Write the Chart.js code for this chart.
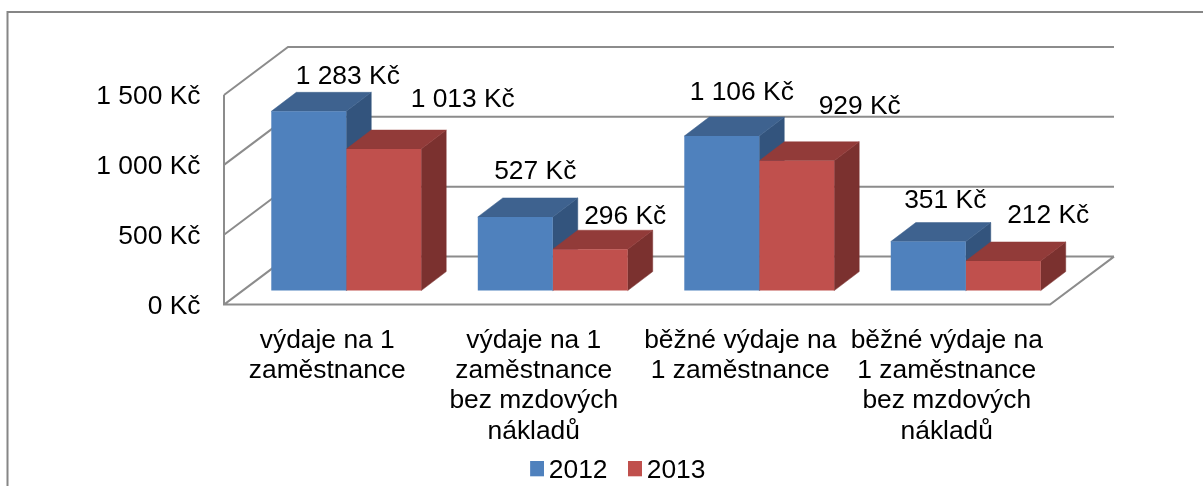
<!DOCTYPE html>
<html>
<head>
<meta charset="utf-8">
<style>html,body{margin:0;padding:0;background:#fff}canvas{display:block}</style>
<script src="https://cdn.jsdelivr.net/npm/chart.js@4"></script>
</head>
<body>
<canvas id="c" width="1203" height="486"></canvas>
<script>
const categories = [
  ["výdaje na 1", "zaměstnance"],
  ["výdaje na 1", "zaměstnance", "bez mzdových", "nákladů"],
  ["běžné výdaje na", "1 zaměstnance"],
  ["běžné výdaje na", "1 zaměstnance", "bez mzdových", "nákladů"]
];
const values2012 = [1283, 527, 1106, 351];
const values2013 = [1013, 296, 929, 212];
const yTicks = [0, 500, 1000, 1500];

const FONT = "'Liberation Sans', Arial, sans-serif";
const FONT_SIZE = 26.4;
const WALL = { dx: 64, dy: -48 };      // depth of the chart box
const BAR_SHIFT = { dx: 19, dy: -14 }; // bars stand inside the box
const BAR_DEPTH = { dx: 25, dy: -19 };
const GRID = "#8c8c8c";
const FRAME = "#868686";
const SHADES = [
  { front: "#4F81BD", top: "#3E628F", side: "#33547D" },
  { front: "#C0504D", top: "#923B39", side: "#7B312F" }
];
// hand-placed data labels: offset of label centre from bar's top-centre
const LABEL_OFFSETS = [
  [[39, -35], [20, -45], [20, -43], [17, -41]],
  [[79, -49], [35, -33], [63, -54], [45, -45]]
];
const LEGEND_SHIFT = { x: 95, y: -18.5 };

const money = v => String(v).replace(/\B(?=(\d{3})+$)/g, " ") + " Kč";

function swatch(color) {
  // legend key: transparent margins place the 14x15 square relative to its text
  const s = document.createElement("canvas");
  s.width = 18; s.height = 18;
  const g = s.getContext("2d");
  g.fillStyle = color;
  g.fillRect(4, 0, 14, 15);
  return s;
}

const box3d = {
  id: "box3d",
  afterLayout(chart) {
    const l = chart.legend;
    l.left += LEGEND_SHIFT.x; l.right += LEGEND_SHIFT.x;
    l.top += LEGEND_SHIFT.y; l.bottom += LEGEND_SHIFT.y;
  },
  beforeDraw(chart) {
    const { ctx, chartArea: a, scales: { y } } = chart;
    ctx.save();
    ctx.strokeStyle = FRAME;
    ctx.lineWidth = 2;
    ctx.beginPath();
    ctx.moveTo(7.5, 486);
    ctx.lineTo(7.5, 12);
    ctx.lineTo(1203, 12);
    ctx.stroke();

    ctx.strokeStyle = GRID;
    ctx.beginPath();
    yTicks.forEach(v => {
      const py = y.getPixelForValue(v);
      ctx.moveTo(a.left, py);
      ctx.lineTo(a.left + WALL.dx, py + WALL.dy);
      ctx.lineTo(a.right + WALL.dx, py + WALL.dy);
    });
    const y0 = y.getPixelForValue(0), yTop = y.getPixelForValue(1500);
    ctx.moveTo(a.left, yTop);
    ctx.lineTo(a.left, y0);
    ctx.lineTo(a.right, y0);
    ctx.lineTo(a.right + WALL.dx, y0 + WALL.dy);
    ctx.stroke();
    ctx.restore();
  },
  beforeDatasetsDraw(chart) {
    const { ctx } = chart;
    ctx.save();
    ctx.translate(BAR_SHIFT.dx, BAR_SHIFT.dy);
    const n = categories.length;
    const poly = (pts, color) => {
      ctx.fillStyle = color;
      ctx.strokeStyle = color;
      ctx.lineWidth = 0.5;
      ctx.beginPath();
      pts.forEach((p, i) => i ? ctx.lineTo(p[0], p[1]) : ctx.moveTo(p[0], p[1]));
      ctx.closePath();
      ctx.fill();
      ctx.stroke();
    };
    for (let i = 0; i < n; i++) {
      [0, 1].forEach(d => {
        const b = chart.getDatasetMeta(d).data[i];
        const l = b.x - b.width / 2, r = b.x + b.width / 2, t = b.y, bt = b.base;
        const { dx, dy } = BAR_DEPTH;
        poly([[r, t], [r + dx, t + dy], [r + dx, bt + dy], [r, bt]], SHADES[d].side);
        poly([[l, t], [r, t], [r + dx, t + dy], [l + dx, t + dy]], SHADES[d].top);
      });
    }
  },
  afterDatasetsDraw(chart) {
    const { ctx } = chart;
    ctx.restore();
    ctx.save();
    ctx.fillStyle = "#000";
    ctx.font = FONT_SIZE + "px " + FONT;
    ctx.textAlign = "center";
    ctx.textBaseline = "middle";
    [values2012, values2013].forEach((vals, d) => {
      const bars = chart.getDatasetMeta(d).data;
      vals.forEach((v, i) => {
        const off = LABEL_OFFSETS[d][i];
        ctx.fillText(money(v), bars[i].x + BAR_SHIFT.dx + off[0], bars[i].y + BAR_SHIFT.dy + off[1]);
      });
    });
    ctx.restore();
  }
};

new Chart(document.getElementById("c"), {
  type: "bar",
  plugins: [box3d],
  data: {
    labels: categories,
    datasets: [
      { label: "2012", data: values2012, backgroundColor: SHADES[0].front, clip: false },
      { label: "2013", data: values2013, backgroundColor: SHADES[1].front, clip: false }
    ]
  },
  options: {
    responsive: false,
    animation: false,
    layout: { padding: { left: 0, right: 153, top: 95, bottom: -26 } },
    categoryPercentage: 0.726,
    barPercentage: 1,
    scales: {
      x: {
        grid: { display: false, drawTicks: false },
        border: { display: false },
        afterFit(s) { s.height = 146; },
        ticks: {
          color: "#000",
          padding: 20.5,
          maxRotation: 0,
          minRotation: 0,
          autoSkip: false,
          font: { family: FONT, size: FONT_SIZE, lineHeight: 1.15 }
        }
      },
      y: {
        min: 0,
        max: 1500,
        afterFit(s) { s.width = 224; },
        afterBuildTicks(s) { s.ticks = yTicks.map(v => ({ value: v })); },
        grid: { display: false, drawTicks: false },
        border: { display: false },
        ticks: {
          color: "#000",
          padding: 23.5,
          labelOffset: 2,
          callback: v => money(v),
          font: { family: FONT, size: FONT_SIZE }
        }
      }
    },
    plugins: {
      tooltip: { enabled: false },
      legend: {
        position: "bottom",
        labels: {
          color: "#000",
          boxWidth: 1,
          boxHeight: 15,
          usePointStyle: true,
          padding: 25,
          font: { family: FONT, size: FONT_SIZE },
          generateLabels(chart) {
            return Chart.defaults.plugins.legend.labels.generateLabels(chart).map((it, i) => {
              it.pointStyle = swatch(SHADES[i].front);
              return it;
            });
          }
        }
      }
    }
  }
});
</script>
</body>
</html>
